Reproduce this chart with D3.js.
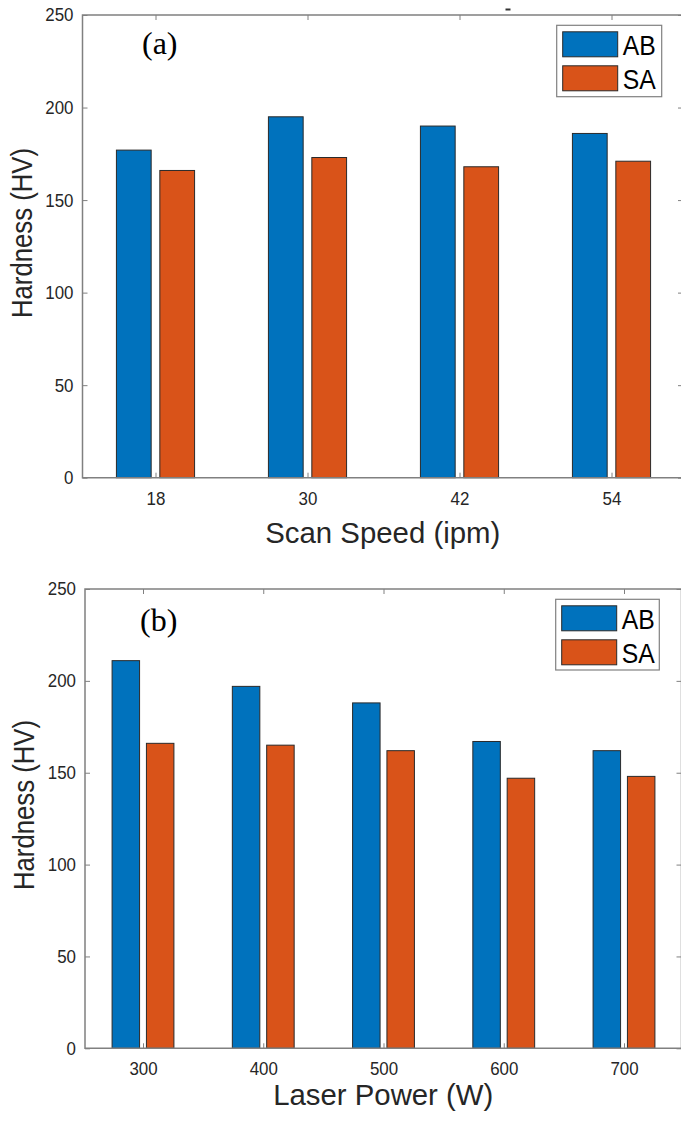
<!DOCTYPE html>
<html>
<head>
<meta charset="utf-8">
<script src="https://cdn.jsdelivr.net/npm/d3@7"></script>
<style>
  html, body { margin: 0; padding: 0; background: #fff; }
  svg { display: block; }
</style>
</head>
<body>
<svg id="chart" width="681" height="1121"></svg>
<script>
// ---- data ----
const seriesNames = ["AB", "SA"];
const speedCats = ["18", "30", "42", "54"];
const speedAB = [177, 195, 190, 186];
const speedSA = [166, 173, 168, 171];
const powerCats = ["300", "400", "500", "600", "700"];
const powerAB = [211, 197, 188, 167, 162];
const powerSA = [166, 165, 162, 147, 148];
const yTicks = [0, 50, 100, 150, 200, 250];

const colors = { AB: "#0072BD", SA: "#D95319" };
const FONT = "'Liberation Sans', Arial, Helvetica, sans-serif";
const AXIS_COLOR = "#808080";
const TEXT_COLOR = "#262626";

const svg = d3.select("#chart");

function panel(cfg) {
  const g = svg.append("g");
  const x = d3.scalePoint().domain(cfg.cats).range([cfg.firstTick, cfg.lastTick]);
  const y = d3.scaleLinear().domain([0, 250]).range([cfg.bottom, cfg.top]);
  const step = x.step();
  const off = step * 0.1428;
  const bw = step * 0.2286;

  // bars
  const data = [];
  cfg.cats.forEach((c, i) => {
    data.push({ cat: c, s: "AB", v: cfg.ab[i], dx: -off });
    data.push({ cat: c, s: "SA", v: cfg.sa[i], dx: off });
  });
  g.selectAll("rect.bar").data(data).enter().append("rect")
    .attr("class", "bar")
    .attr("x", d => x(d.cat) + d.dx - bw / 2)
    .attr("width", bw)
    .attr("y", d => y(d.v))
    .attr("height", d => y(0) - y(d.v))
    .attr("fill", d => colors[d.s])
    .attr("stroke", "#2a2a2a")
    .attr("stroke-width", 1);

  // axes
  const left = g.append("g").attr("transform", `translate(${cfg.left},0)`)
    .call(d3.axisLeft(y).tickValues(yTicks).tickSizeInner(-5).tickSizeOuter(0).tickPadding(9));
  const right = g.append("g").attr("transform", `translate(${cfg.right},0)`)
    .call(d3.axisRight(y).tickValues(yTicks).tickSizeInner(-5).tickSizeOuter(0).tickFormat(""));
  const bottom = g.append("g").attr("transform", `translate(0,${cfg.bottom})`)
    .call(d3.axisBottom(x).tickSizeInner(-5).tickSizeOuter(0).tickPadding(14));
  const topAx = g.append("g").attr("transform", `translate(0,${cfg.top})`)
    .call(d3.axisTop(x).tickSizeInner(-5).tickSizeOuter(0).tickFormat(""));
  [left, right, bottom, topAx].forEach(a => {
    a.select(".domain").remove();
    a.selectAll(".tick line").attr("stroke", AXIS_COLOR).attr("stroke-width", 1);
    a.selectAll(".tick text").attr("fill", TEXT_COLOR)
      .style("font-family", FONT).style("font-size", "18.5px")
      .attr("lengthAdjust", "spacingAndGlyphs")
      .attr("textLength", function () { return this.textContent.length * 9.4; });
  });
  // box
  g.append("path")
    .attr("d", `M${cfg.left},${cfg.top}H${cfg.right}V${cfg.bottom}H${cfg.left}Z`)
    .attr("fill", "none").attr("stroke", AXIS_COLOR).attr("stroke-width", 1.5);

  // axis labels
  g.append("text")
    .attr("x", (cfg.left + cfg.right) / 2).attr("y", cfg.xLabelY)
    .attr("text-anchor", "middle").attr("fill", TEXT_COLOR)
    .style("font-family", FONT).style("font-size", "29.5px")
    .attr("lengthAdjust", "spacingAndGlyphs").attr("textLength", cfg.xLabelLen)
    .text(cfg.xLabel);
  g.append("text")
    .attr("transform", `translate(${cfg.yLabelX},${cfg.yLabelCY}) rotate(-90)`)
    .attr("text-anchor", "middle").attr("fill", TEXT_COLOR)
    .style("font-family", FONT).style("font-size", "29px")
    .attr("lengthAdjust", "spacingAndGlyphs").attr("textLength", 170)
    .text("Hardness (HV)");

  // panel tag
  g.append("text")
    .attr("x", cfg.tagX).attr("y", cfg.tagY)
    .attr("fill", "#000")
    .style("font-family", "'Liberation Serif', 'Times New Roman', serif")
    .style("font-size", "32px")
    .text(cfg.tag);

  // legend
  const L = cfg.legend;
  g.append("rect").attr("x", L.x).attr("y", L.y).attr("width", L.w).attr("height", L.h)
    .attr("fill", "#fff").attr("stroke", AXIS_COLOR).attr("stroke-width", 1.2);
  seriesNames.forEach((s, i) => {
    const sy = L.y + 6.5 + i * 34;
    g.append("rect").attr("x", L.x + 6).attr("y", sy).attr("width", 55).attr("height", 25)
      .attr("fill", colors[s]).attr("stroke", "#2a2a2a").attr("stroke-width", 1);
    g.append("text").attr("x", L.x + 66).attr("y", sy + 23.5)
      .attr("fill", "#000").style("font-family", FONT).style("font-size", "27px")
      .attr("lengthAdjust", "spacingAndGlyphs").attr("textLength", 33)
      .text(s);
  });
  return g;
}

panel({
  cats: speedCats, ab: speedAB, sa: speedSA,
  left: 82.5, right: 683, top: 15, bottom: 477.7,
  firstTick: 155.5, lastTick: 611.5,
  xLabel: "Scan Speed (ipm)", xLabelY: 543, xLabelLen: 235,
  yLabelX: 32, yLabelCY: 233,
  tag: "(a)", tagX: 142, tagY: 54,
  legend: { x: 556.7, y: 25.3, w: 105, h: 71.4 }
});

panel({
  cats: powerCats, ab: powerAB, sa: powerSA,
  left: 85, right: 681.5, top: 589, bottom: 1048.3,
  firstTick: 143, lastTick: 624,
  xLabel: "Laser Power (W)", xLabelY: 1105, xLabelLen: 220,
  yLabelX: 34, yLabelCY: 805,
  tag: "(b)", tagX: 140, tagY: 631,
  legend: { x: 555.7, y: 599.3, w: 103.6, h: 70.7 }
});

// small stray dash above top panel
svg.append("line").attr("x1", 505.5).attr("x2", 510.5).attr("y1", 9.5).attr("y2", 9.5)
  .attr("stroke", "#333").attr("stroke-width", 2);
</script>
</body>
</html>
